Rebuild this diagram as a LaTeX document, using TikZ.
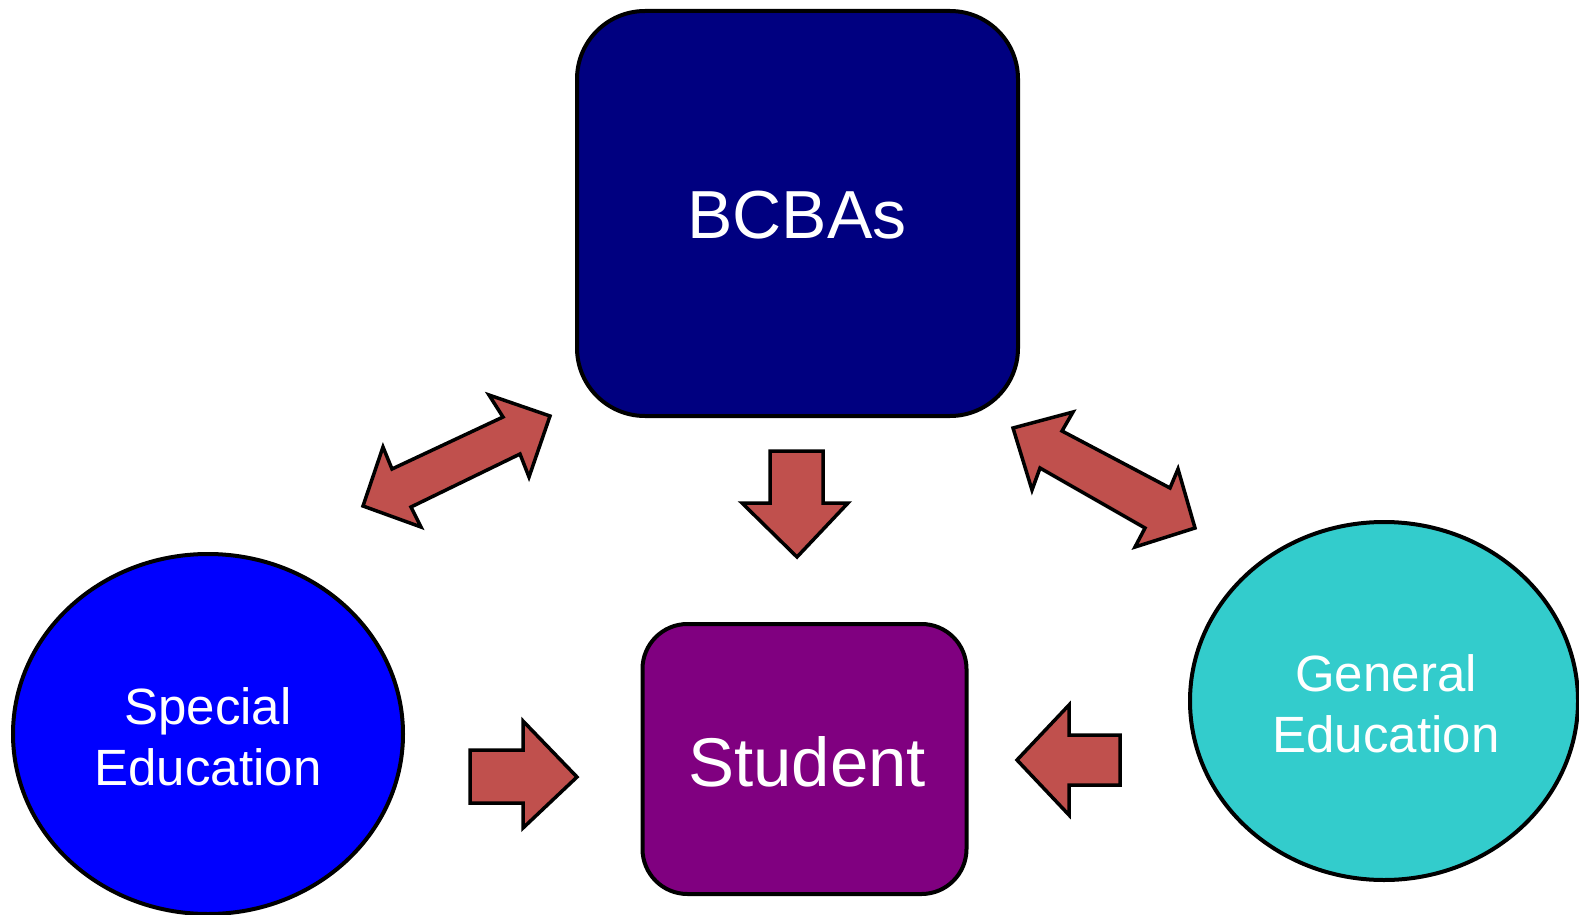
\documentclass[tikz,border=0pt]{standalone}
\usepackage{fontspec}
\setmainfont{Liberation Sans}
\usetikzlibrary{shapes.geometric}
\definecolor{navyb}{HTML}{000080}
\definecolor{purp}{HTML}{800080}
\definecolor{blueb}{HTML}{0000FF}
\definecolor{tealb}{HTML}{33CCCC}
\definecolor{arrowred}{HTML}{C0504D}
\begin{document}
\begin{tikzpicture}[x=1pt,y=-1pt,
  boxstyle/.style={draw=black,line width=4pt,text=white,inner sep=0pt},
  blockarrow/.style={draw=black,fill=arrowred,line width=3.5pt,line join=miter}]
\useasboundingbox (0,0) rectangle (1579,915);
% BCBAs
\node[boxstyle,fill=navyb,rounded corners=68pt,minimum width=441pt,minimum height=405pt] (bcba) at (797.5,213.5) {};
\node[text=white,font=\fontsize{68}{82}\selectfont] (bcbat) at (797,215) {BCBAs};
% Student
\node[boxstyle,fill=purp,rounded corners=45pt,minimum width=324pt,minimum height=270pt] (stud) at (804.5,759) {};
\node[text=white,font=\fontsize{69}{83}\selectfont] (studt) at (807,762) {Student};
% Special Education
\node[boxstyle,fill=blueb,ellipse,minimum width=390pt,minimum height=360pt] (sped) at (208,734) {};
\node[text=white,align=center,font=\fontsize{51}{61}\selectfont] (spedt) at (208,737) {Special\\Education};
% General Education
\node[boxstyle,fill=tealb,ellipse,minimum width=388pt,minimum height=358pt] (gened) at (1384,701) {};
\node[text=white,align=center,font=\fontsize{51}{61}\selectfont] (genedt) at (1386,704) {General\\Education};
% left double arrow
\draw[blockarrow] (550,416) -- (529,477) -- (520,454) -- (411,507) -- (421,527) -- (363,506) -- (383,447) -- (392,469) -- (503,417) -- (489,395) -- cycle;
% right double arrow
\draw[blockarrow] (1013,428) -- (1073,412) -- (1062,431) -- (1170,488) -- (1178,469) -- (1195,528) -- (1135,547) -- (1145,528) -- (1040,468) -- (1032,490) -- cycle;
% down arrow
\draw[blockarrow] (770,451) -- (823,451) -- (823,503) -- (848,503) -- (797,557) -- (742,503) -- (770,503) -- cycle;
% right arrow
\draw[blockarrow] (470,750) -- (523,750) -- (523,721) -- (577,777) -- (523,828) -- (523,803) -- (470,803) -- cycle;
% left arrow
\draw[blockarrow] (1120,735) -- (1069,735) -- (1069,705) -- (1017,760) -- (1069,815) -- (1069,785) -- (1120,785) -- cycle;
\end{tikzpicture}
\end{document}
